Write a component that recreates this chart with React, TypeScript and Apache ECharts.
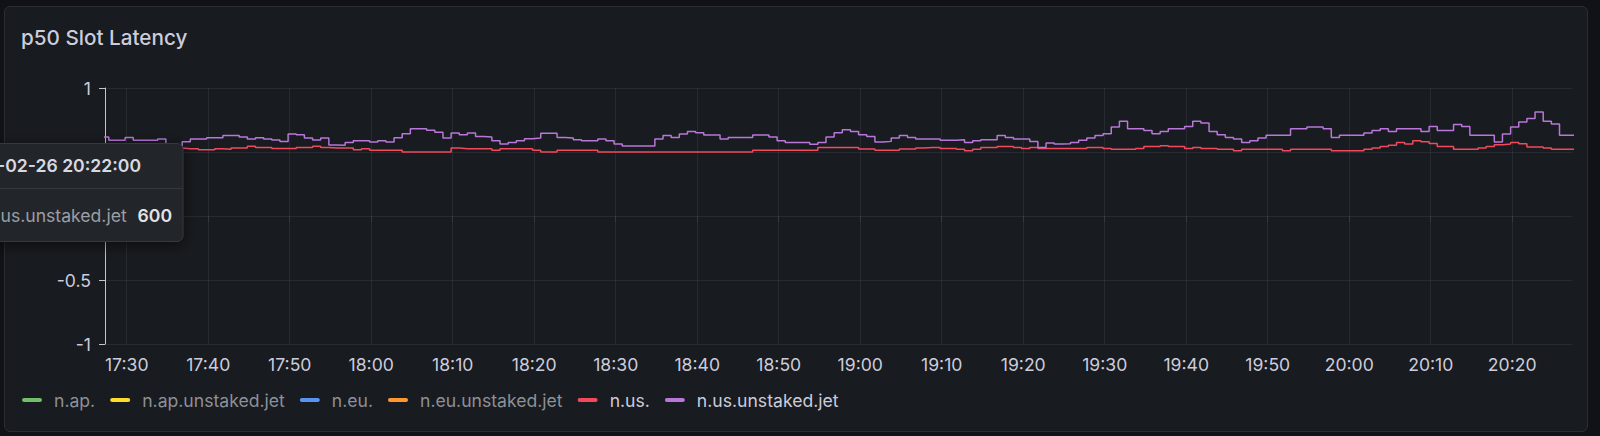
import React, { useEffect, useRef } from "react";
import * as echarts from "echarts";

const TITLE = "p50 Slot Latency";
const SERIES_NAMES = ["n.ap.", "n.ap.unstaked.jet", "n.eu.", "n.eu.unstaked.jet", "n.us.", "n.us.unstaked.jet"];
const SERIES_COLORS = ["#73bf69", "#fade2a", "#5794f2", "#ff9830", "#f2495c", "#b877d9"];
const LEGEND_TEXT_COLORS = ["#8e9097", "#8e9097", "#8e9097", "#8e9097", "#ccccdc", "#ccccdc"];

const Y_MIN = -1;
const Y_MAX = 1;
const Y_STEP = 0.5;

const X_TICK_LABELS = [
  "17:30", "17:40", "17:50", "18:00", "18:10", "18:20", "18:30", "18:40", "18:50",
  "19:00", "19:10", "19:20", "19:30", "19:40", "19:50", "20:00", "20:10", "20:20",
];

// samples every minute, first one at 17:26:48
const FIRST_SAMPLE = new Date(2025, 1, 26, 17, 26, 48).getTime();
const STEP_MS = 60 * 1000;
const X_MIN = new Date(2025, 1, 26, 17, 27, 20).getTime();
const X_MAX = new Date(2025, 1, 26, 20, 27, 20).getTime();

const N_AP: number[] = [];
const N_AP_UNSTAKED_JET: number[] = [];
const N_EU: number[] = [];
const N_EU_UNSTAKED_JET: number[] = [];

const N_US = [
  0.531, 0.531, 0.531, 0.531, 0.531, 0.531, 0.531, 0.531, 0.531, 0.531,
  0.526, 0.526, 0.518, 0.518, 0.526, 0.521, 0.531, 0.531, 0.544, 0.536,
  0.536, 0.528, 0.528, 0.528, 0.536, 0.536, 0.544, 0.536, 0.531, 0.531,
  0.531, 0.518, 0.526, 0.513, 0.513, 0.513, 0.513, 0.5, 0.5, 0.5,
  0.5, 0.5, 0.5, 0.531, 0.526, 0.526, 0.526, 0.526, 0.513, 0.526,
  0.526, 0.526, 0.526, 0.513, 0.5, 0.5, 0.513, 0.513, 0.513, 0.513,
  0.513, 0.5, 0.5, 0.5, 0.5, 0.5, 0.5, 0.5, 0.5, 0.5,
  0.5, 0.5, 0.5, 0.5, 0.5, 0.5, 0.5, 0.5, 0.5, 0.5,
  0.513, 0.513, 0.513, 0.513, 0.513, 0.513, 0.513, 0.513, 0.536, 0.536,
  0.536, 0.536, 0.536, 0.523, 0.523, 0.513, 0.513, 0.513, 0.523, 0.523,
  0.531, 0.536, 0.536, 0.528, 0.528, 0.521, 0.51, 0.521, 0.536, 0.536,
  0.542, 0.542, 0.536, 0.528, 0.536, 0.528, 0.528, 0.528, 0.528, 0.528,
  0.528, 0.536, 0.536, 0.528, 0.521, 0.521, 0.521, 0.528, 0.542, 0.542,
  0.549, 0.542, 0.542, 0.528, 0.536, 0.528, 0.528, 0.521, 0.521, 0.51,
  0.521, 0.521, 0.521, 0.521, 0.521, 0.51, 0.521, 0.521, 0.521, 0.521,
  0.521, 0.51, 0.51, 0.51, 0.51, 0.521, 0.531, 0.542, 0.552, 0.575,
  0.562, 0.588, 0.581, 0.567, 0.542, 0.542, 0.521, 0.521, 0.521, 0.531,
  0.542, 0.557, 0.562, 0.575, 0.565, 0.539, 0.539, 0.531, 0.521, 0.521,
  0.521, 0.521,
];

const N_US_UNSTAKED_JET = [
  0.617, 0.591, 0.591, 0.614, 0.591, 0.591, 0.591, 0.601, 0.544, 0.544,
  0.581, 0.601, 0.601, 0.612, 0.612, 0.628, 0.628, 0.617, 0.601, 0.612,
  0.601, 0.594, 0.583, 0.641, 0.635, 0.609, 0.594, 0.609, 0.554, 0.552,
  0.575, 0.588, 0.588, 0.578, 0.588, 0.578, 0.612, 0.643, 0.682, 0.682,
  0.669, 0.654, 0.609, 0.648, 0.635, 0.648, 0.622, 0.617, 0.588, 0.562,
  0.575, 0.588, 0.604, 0.609, 0.646, 0.646, 0.614, 0.609, 0.596, 0.588,
  0.588, 0.601, 0.588, 0.562, 0.547, 0.547, 0.547, 0.547, 0.601, 0.628,
  0.614, 0.641, 0.661, 0.651, 0.633, 0.633, 0.601, 0.614, 0.614, 0.614,
  0.633, 0.633, 0.617, 0.588, 0.575, 0.575, 0.575, 0.56, 0.575, 0.617,
  0.651, 0.674, 0.661, 0.635, 0.622, 0.578, 0.583, 0.609, 0.628, 0.614,
  0.601, 0.601, 0.601, 0.591, 0.591, 0.596, 0.575, 0.588, 0.596, 0.596,
  0.628, 0.614, 0.601, 0.601, 0.583, 0.536, 0.57, 0.562, 0.565, 0.575,
  0.591, 0.609, 0.628, 0.643, 0.695, 0.74, 0.682, 0.682, 0.667, 0.643,
  0.661, 0.682, 0.682, 0.7, 0.74, 0.727, 0.661, 0.635, 0.614, 0.601,
  0.575, 0.588, 0.609, 0.63, 0.63, 0.63, 0.682, 0.682, 0.695, 0.695,
  0.682, 0.614, 0.63, 0.63, 0.63, 0.648, 0.667, 0.682, 0.661, 0.682,
  0.682, 0.682, 0.661, 0.7, 0.667, 0.667, 0.714, 0.7, 0.63, 0.63,
  0.63, 0.578, 0.641, 0.695, 0.735, 0.761, 0.813, 0.74, 0.719, 0.63,
  0.63, 0.63,
];

const SERIES_DATA = [N_AP, N_AP_UNSTAKED_JET, N_EU, N_EU_UNSTAKED_JET, N_US, N_US_UNSTAKED_JET];

// hover tooltip frozen in the screenshot (cut by the left page edge)
const TOOLTIP_DATE = "-02-26 20:22:00";
const TOOLTIP_SERIES = "us.unstaked.jet";
const TOOLTIP_VALUE = "600";

const FONT = "Inter, 'Noto Sans', sans-serif";
const TEXT = "#ccccdc";
const GRID_LINE = "rgba(204,204,220,0.09)";
const AXIS_FS = 17.6;

const pad2 = (n: number) => (n < 10 ? "0" + n : "" + n);
const labelToMs = (label: string) => {
  const [h, m] = label.split(":").map(Number);
  return new Date(2025, 1, 26, h, m, 0).getTime();
};
const msToLabel = (ms: number) => {
  const d = new Date(ms);
  return pad2(d.getHours()) + ":" + pad2(d.getMinutes());
};

export default function App() {
  const ref = useRef<HTMLDivElement>(null);

  useEffect(() => {
    if (!ref.current) return;
    const chart = echarts.init(ref.current, null, { renderer: "svg" });

    const toPairs = (vals: number[]) => vals.map((v, i) => [FIRST_SAMPLE + i * STEP_MS, v]);
    const xTicks = X_TICK_LABELS.map(labelToMs);

    const series = SERIES_NAMES.map((name, i) => ({
      name,
      type: "line",
      step: "end",
      symbol: "none",
      showSymbol: false,
      color: SERIES_COLORS[i],
      lineStyle: { color: SERIES_COLORS[i], width: 1.5 },
      emphasis: { disabled: true },
      silent: true,
      data: toPairs(SERIES_DATA[i]),
    }));

    const top = { zlevel: 1, z: 100 };

    chart.setOption({
      animation: false,
      backgroundColor: "transparent",
      textStyle: { fontFamily: FONT },
      title: {
        text: TITLE,
        left: 21,
        top: 27,
        padding: 0,
        textStyle: { color: TEXT, fontSize: 20.7, fontWeight: 500, fontFamily: FONT },
      },
      legend: {
        left: 22,
        top: 391,
        padding: 0,
        icon: "path://M2,0H18A2,2,0,0,1,18,4H2A2,2,0,0,1,2,0Z",
        itemWidth: 20,
        itemHeight: 5,
        itemGap: 15,
        selectedMode: false,
        data: SERIES_NAMES.map((n, i) => ({ name: n, textStyle: { color: LEGEND_TEXT_COLORS[i] } })),
        textStyle: { fontSize: AXIS_FS, fontFamily: FONT, padding: [0, 0, 0, 7] },
      },
      grid: { left: 105, right: 28, top: 88, bottom: 92, containLabel: false },
      xAxis: {
        type: "value",
        min: X_MIN,
        max: X_MAX,
        axisLine: { show: false },
        axisTick: { show: true, length: 6, lineStyle: { color: GRID_LINE }, customValues: xTicks },
        splitLine: { show: true, lineStyle: { color: GRID_LINE, width: 1 } },
        axisLabel: {
          color: TEXT,
          fontSize: AXIS_FS,
          fontFamily: FONT,
          margin: 11,
          customValues: xTicks,
          formatter: (v: number) => msToLabel(v),
          hideOverlap: false,
        },
      },
      yAxis: {
        type: "value",
        min: Y_MIN,
        max: Y_MAX,
        interval: Y_STEP,
        axisLine: { show: true, lineStyle: { color: "#c4c4cc", width: 1 } },
        axisTick: { show: true, length: 6, lineStyle: { color: "#c4c4cc" } },
        splitLine: { show: true, lineStyle: { color: GRID_LINE, width: 1 } },
        axisLabel: { color: TEXT, fontSize: AXIS_FS, fontFamily: FONT, margin: 14 },
      },
      series,
      graphic: {
        zlevel: 1,
        z: 100,
        elements: [
          {
            type: "group",
            ...top,
            children: [
              {
                type: "rect",
                ...top,
                shape: { x: -10, y: 143.5, width: 193, height: 98, r: 6 },
                style: {
                  fill: "#22252b",
                  stroke: "#34373d",
                  lineWidth: 1,
                  shadowBlur: 14,
                  shadowColor: "rgba(0,0,0,0.55)",
                  shadowOffsetY: 3,
                },
              },
              {
                type: "line",
                ...top,
                shape: { x1: 0, y1: 188.5, x2: 183, y2: 188.5 },
                style: { stroke: "#34373d", lineWidth: 1 },
              },
              {
                type: "text",
                ...top,
                x: -3,
                y: 165.5,
                style: {
                  text: TOOLTIP_DATE,
                  fill: "#d8d9e0",
                  font: `600 17.6px ${FONT}`,
                  textAlign: "left",
                  textVerticalAlign: "middle",
                },
              },
              {
                type: "text",
                ...top,
                x: 0.5,
                y: 215,
                style: {
                  text: TOOLTIP_SERIES,
                  fill: "#9c9ea6",
                  font: `400 17.6px ${FONT}`,
                  textAlign: "left",
                  textVerticalAlign: "middle",
                },
              },
              {
                type: "text",
                ...top,
                x: 172,
                y: 215,
                style: {
                  text: TOOLTIP_VALUE,
                  fill: "#e2e2e8",
                  font: `600 17.6px ${FONT}`,
                  textAlign: "right",
                  textVerticalAlign: "middle",
                },
              },
            ],
          },
        ],
      },
    });

    return () => chart.dispose();
  }, []);

  return (
    <div style={{ position: "fixed", left: 0, top: 0, width: 1600, height: 436, background: "#111217", overflow: "hidden" }}>
      <div
        style={{
          position: "absolute",
          left: 4,
          top: 6,
          width: 1584,
          height: 426,
          boxSizing: "border-box",
          border: "1px solid #2a2d33",
          borderRadius: 6,
          background: "#181b1f",
        }}
      />
      <div ref={ref} style={{ position: "absolute", left: 0, top: 0, width: 1600, height: 436 }} />
    </div>
  );
}
